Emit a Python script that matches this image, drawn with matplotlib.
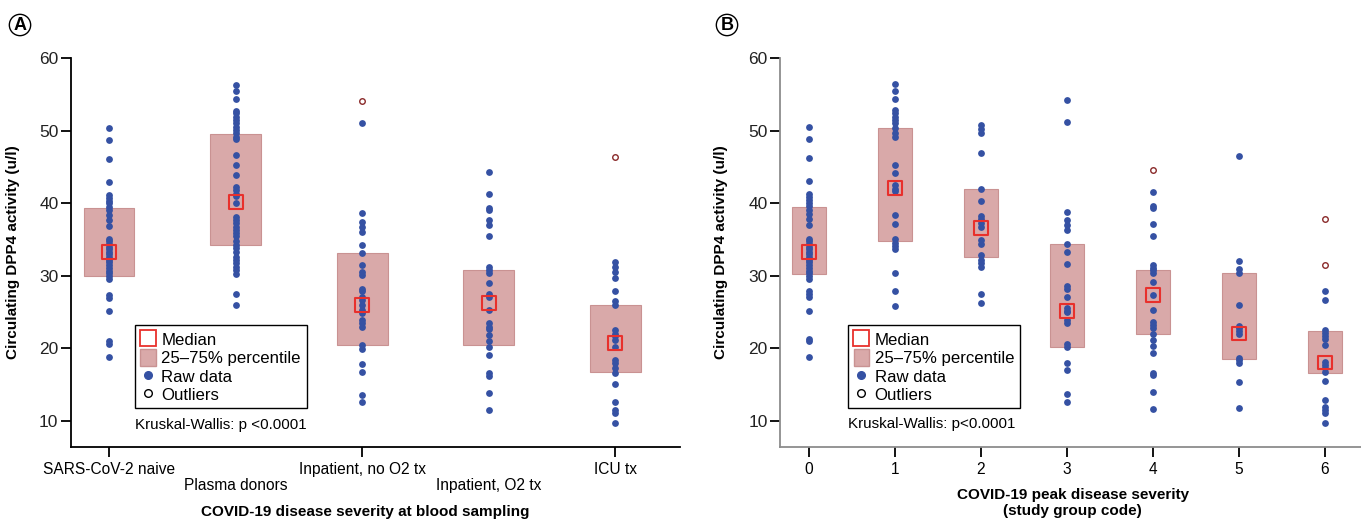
import matplotlib
matplotlib.use("Agg")
import matplotlib.pyplot as plt
from matplotlib.lines import Line2D
from matplotlib.patches import Patch

plt.rcParams['font.family'] = ['Liberation Sans', 'DejaVu Sans']

# ---- panel A: disease severity at blood sampling ----
cats_a = ["SARS-CoV-2 naive", "Plasma donors", "Inpatient, no O2 tx",
          "Inpatient, O2 tx", "ICU tx"]
raw_a = [
    [50.4, 48.7, 46.1, 42.9, 41.1, 40.7, 40.3, 40.0, 39.5, 39.0, 38.4, 37.7,
     36.8, 35.1, 34.8, 34.4, 34.0, 33.6, 33.3, 32.9, 32.5, 32.1, 31.8, 31.4,
     31.0, 30.6, 30.3, 29.9, 29.5, 27.3, 26.9, 25.1, 21.0, 20.6, 18.8],
    [56.3, 55.4, 54.3, 52.7, 52.4, 51.9, 51.4, 51.0, 50.5, 50.1, 49.6, 49.1,
     48.8, 46.6, 45.2, 43.9, 42.2, 41.8, 41.3, 40.9, 40.0, 38.1, 37.7, 37.2,
     36.7, 36.3, 35.8, 35.4, 34.7, 34.2, 33.8, 33.3, 32.6, 32.1, 31.7, 31.2,
     30.8, 30.2, 27.5, 25.9],
    [51.1, 38.6, 37.4, 36.7, 36.0, 34.2, 33.1, 31.4, 30.5, 30.1, 28.2, 27.8,
     27.1, 26.6, 25.9, 25.2, 24.8, 23.9, 23.4, 22.9, 20.4, 19.9, 17.8, 16.7,
     13.5, 12.5],
    [44.3, 41.3, 39.3, 39.0, 37.7, 37.0, 35.4, 31.2, 30.8, 30.3, 28.9, 27.4,
     27.1, 25.2, 23.4, 22.9, 22.6, 21.8, 21.0, 20.1, 19.0, 16.5, 16.1, 13.8,
     11.4],
    [31.8, 31.2, 30.5, 29.7, 27.8, 26.5, 25.9, 22.5, 22.0, 21.6, 21.1, 20.2,
     18.3, 17.9, 17.2, 16.5, 15.1, 12.6, 11.5, 11.0, 9.6],
]
outliers_a = [[], [], [54.1], [], [46.4]]
q1_a = [30.0, 34.2, 20.4, 20.4, 16.7]
q3_a = [39.3, 49.5, 33.1, 30.7, 25.9]
median_a = [33.2, 40.1, 25.9, 26.2, 20.7]

# ---- panel B: peak disease severity (study group code) ----
cats_b = ["0", "1", "2", "3", "4", "5", "6"]
raw_b = [
    [50.5, 48.8, 46.2, 43.0, 41.2, 40.8, 40.4, 40.0, 39.6, 39.1, 38.5, 37.8,
     36.9, 35.1, 34.8, 34.4, 34.0, 33.6, 33.3, 32.9, 32.5, 32.1, 31.8, 31.4,
     31.0, 30.6, 30.3, 29.9, 29.5, 27.8, 27.4, 27.1, 25.1, 21.3, 21.0, 18.8],
    [56.4, 55.4, 54.4, 52.8, 52.4, 51.9, 51.4, 51.0, 50.4, 49.6, 49.1, 45.2,
     44.1, 42.5, 42.0, 41.6, 38.3, 37.1, 35.0, 34.5, 34.1, 33.6, 30.4, 27.8,
     25.8],
    [50.8, 50.2, 49.6, 46.9, 42.0, 40.3, 38.2, 37.8, 37.2, 36.7, 34.9, 34.4,
     32.8, 32.2, 31.7, 31.2, 27.5, 26.2],
    [54.2, 51.2, 38.7, 37.6, 36.9, 36.3, 34.3, 33.2, 31.6, 28.6, 28.2, 27.1,
     25.5, 25.1, 24.9, 23.8, 23.5, 20.6, 20.2, 17.9, 17.0, 13.7, 12.6],
    [41.5, 39.6, 39.3, 37.1, 35.5, 31.4, 31.0, 30.7, 30.3, 29.1, 27.3, 25.3,
     23.6, 23.2, 22.7, 21.9, 21.1, 20.3, 19.3, 16.6, 16.3, 14.0, 11.6],
    [46.5, 32.0, 30.9, 30.3, 26.0, 23.1, 22.7, 22.3, 21.9, 18.6, 18.3, 17.9,
     15.3, 11.7],
    [27.9, 26.6, 22.5, 22.1, 21.6, 21.2, 20.4, 18.1, 17.6, 17.2, 16.7, 15.4,
     12.8, 11.9, 11.5, 11.1, 9.7],
]
outliers_b = [[], [], [], [], [44.5], [], [37.8, 31.5]]
q1_b = [30.2, 34.8, 32.6, 20.2, 21.9, 18.5, 16.6]
q3_b = [39.4, 50.4, 42.0, 34.3, 30.8, 30.3, 22.3]
median_b = [33.3, 42.1, 36.6, 25.1, 27.3, 22.0, 18.0]

yticks = [10, 20, 30, 40, 50, 60]

box_fc = '#d9a9a9'
box_ec = '#c99292'
dot_c = '#3551a3'
med_c = '#e8302c'
out_c = '#8a2a2a'


def draw_panel(ax, raw, outliers, q1, q3, med):
    xs = list(range(len(raw)))
    ax.bar(xs, [b - a for a, b in zip(q1, q3)], bottom=q1, width=0.4,
           color=box_fc, edgecolor=box_ec, linewidth=0.8, zorder=1)
    for i, vals in enumerate(raw):
        ax.scatter([i] * len(vals), vals, s=24, color=dot_c, linewidths=0,
                   zorder=2)
    for i, vals in enumerate(outliers):
        if vals:
            ax.scatter([i] * len(vals), vals, s=16, facecolors='white',
                       edgecolors=out_c, linewidths=1.0, zorder=2)
    ax.scatter(xs, med, marker='s', s=100, facecolors='none',
               edgecolors=med_c, linewidths=1.5, zorder=3)
    ax.set_ylim(6.35, 60)
    ax.set_yticks(yticks)
    ax.spines['top'].set_visible(False)
    ax.spines['right'].set_visible(False)
    ax.tick_params(axis='y', labelsize=12.5, length=7, width=1.3,
                   direction='out', pad=2, labelcolor='#222222')
    ax.tick_params(axis='x', which='major', length=7, width=1.3,
                   labelsize=11.2, pad=4)
    ax.set_ylabel("Circulating DPP4 activity (u/l)", fontsize=11,
                  fontweight='bold')
    handles = [
        Line2D([], [], marker='s', ls='none', mfc='none', mec=med_c,
               ms=12, mew=1.3),
        Patch(facecolor=box_fc, edgecolor=box_ec),
        Line2D([], [], marker='o', ls='none', color=dot_c, ms=5.5),
        Line2D([], [], marker='o', ls='none', mfc='white', mec='black',
               ms=5.5, mew=1.0),
    ]
    labels = ["Median", "25\u201375% percentile", "Raw data", "Outliers"]
    return handles, labels


def add_legend(ax, h, l, x):
    leg = ax.legend(h, l, loc='upper left', bbox_to_anchor=(x, 0.313),
                    fontsize=12.1, frameon=True, fancybox=False,
                    edgecolor='black', framealpha=1, handlelength=0.9,
                    handleheight=1.2, handletextpad=0.35, labelspacing=0.06,
                    borderpad=0.33, borderaxespad=0)
    leg.get_frame().set_linewidth(1.0)


fig = plt.figure(figsize=(13.61, 5.2), dpi=100)

# panel A
axA = fig.add_axes([71 / 1361, 73 / 520, 609 / 1361, 389 / 520])
h, l = draw_panel(axA, raw_a, outliers_a, q1_a, q3_a, median_a)
axA.set_xlim(-0.30, 4.51)
axA.set_xticks([0, 2, 4])
axA.set_xticklabels([cats_a[0], cats_a[2], cats_a[4]])
axA.set_xticks([1, 3], minor=True)
axA.set_xticklabels([cats_a[1], cats_a[3]], minor=True)
axA.tick_params(axis='x', which='minor', length=0, labelsize=11.2, pad=22)
axA.set_xlabel("COVID-19 disease severity at blood sampling", fontsize=11,
               fontweight='bold', va='center')
axA.xaxis.set_label_coords(0.483, -0.167)
axA.yaxis.set_label_coords(-0.084, 0.5)
add_legend(axA, h, l, 0.105)
axA.text(0.105, 0.056, "Kruskal-Wallis: p <0.0001", transform=axA.transAxes,
         fontsize=10.9, va='center', ha='left')

# panel B
axB = fig.add_axes([780 / 1361, 73 / 520, 581 / 1361, 389 / 520])
h, l = draw_panel(axB, raw_b, outliers_b, q1_b, q3_b, median_b)
axB.set_xlim(-0.337, 6.42)
axB.set_xticks(range(len(cats_b)))
axB.set_xticklabels(cats_b)
for sp in ('left', 'bottom'):
    axB.spines[sp].set_color('#8c8c8c')
    axB.spines[sp].set_linewidth(1.3)
axB.set_xlabel("COVID-19 peak disease severity\n(study group code)",
               fontsize=11, fontweight='bold', va='center', linespacing=1.1)
axB.xaxis.set_label_coords(0.504, -0.144)
axB.yaxis.set_label_coords(-0.0895, 0.5)
add_legend(axB, h, l, 0.117)
axB.text(0.117, 0.06, "Kruskal-Wallis: p<0.0001", transform=axB.transAxes,
         fontsize=10.9, va='center', ha='left')

for sp in ('left', 'bottom'):
    axA.spines[sp].set_linewidth(1.3)

# circled panel letters
for xf, letter in [(20 / 1361, 'A'), (727 / 1361, 'B')]:
    fig.text(xf, 1 - 25 / 520, letter, fontsize=13, fontweight='bold',
             ha='center', va='center',
             bbox=dict(boxstyle='circle,pad=0.12', fc='white', ec='black',
                       lw=1.0))

fig.savefig("out.png", dpi=100)
